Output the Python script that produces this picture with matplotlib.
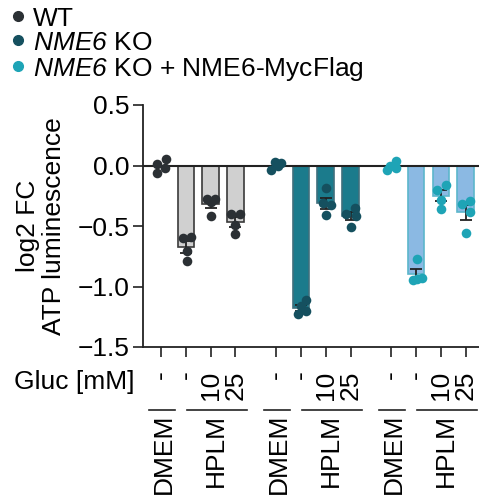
import numpy as np
import matplotlib
matplotlib.use("Agg")
import matplotlib.pyplot as plt
import matplotlib.transforms as mtransforms
from matplotlib.lines import Line2D

plt.rcParams["font.family"] = ["Liberation Sans", "DejaVu Sans"]
plt.rcParams["mathtext.fontset"] = "custom"
plt.rcParams["mathtext.it"] = "Liberation Sans:italic"
plt.rcParams["mathtext.rm"] = "Liberation Sans:italic"

# data (log2 FC ATP luminescence), 4 replicates per condition
genotypes = ["WT", r"$NME6$ KO", r"$NME6$ KO + NME6-MycFlag"]
gluc_labels = ["-", "-", "10", "25"]
media = ["DMEM", "HPLM"]

wt_vals = [[0.05, 0.01, -0.02, -0.06],
           [-0.59, -0.60, -0.71, -0.79],
           [-0.28, -0.28, -0.30, -0.42],
           [-0.40, -0.40, -0.49, -0.57]]
ko_vals = [[0.03, 0.02, 0.00, -0.04],
           [-1.11, -1.16, -1.20, -1.23],
           [-0.19, -0.31, -0.33, -0.41],
           [-0.35, -0.40, -0.42, -0.51]]
resc_vals = [[0.04, 0.00, -0.02, -0.04],
             [-0.77, -0.93, -0.94, -0.95],
             [-0.16, -0.20, -0.285, -0.36],
             [-0.29, -0.32, -0.385, -0.555]]

# horizontal scatter of replicate dots
wt_offs = [[0.19, -0.17, 0.16, -0.17], [0.2, -0.13, 0.04, 0.04],
           [-0.16, 0.17, 0.0, 0.0], [-0.2, 0.17, 0.0, 0.0]]
ko_offs = [[-0.04, 0.19, 0.08, -0.2], [0.2, 0.0, 0.2, -0.13],
           [0.0, -0.13, 0.2, 0.0], [0.16, -0.17, 0.2, 0.0]]
resc_offs = [[0.19, -0.04, 0.19, -0.17], [0.04, 0.23, 0.04, -0.13],
             [0.2, -0.16, 0.0, 0.0], [0.16, -0.16, 0.16, 0.0]]

all_vals = [wt_vals, ko_vals, resc_vals]
all_offs = [wt_offs, ko_offs, resc_offs]
bar_colors = ["#d0d0d0", "#1b7b8c", "#8bb9e3"]
edge_colors = ["#3a3a3a", "#3f6f7d", "#5cb6cb"]
dot_colors = ["#2b3034", "#15505f", "#1ea4b6"]

FS = 19

fig = plt.figure(figsize=(4.79, 5.0), dpi=100)
ax = fig.add_axes([143 / 479, 1 - 347 / 500, 1 - 143 / 479, (347 - 105) / 500])

group_gap = 4.64
width = 0.67
tick_pos = []
for g in range(3):
    for i in range(4):
        x = g * group_gap + i
        tick_pos.append(x)
        vals = np.array(all_vals[g][i])
        m = vals.mean()
        sem = vals.std(ddof=1) / np.sqrt(len(vals))
        if i > 0:
            ax.bar(x, m, width=width, color=bar_colors[g], edgecolor=edge_colors[g],
                   linewidth=1.2, zorder=2)
            ax.errorbar(x, m, yerr=sem, fmt="none", ecolor="#222222", elinewidth=1.3,
                        capsize=4, capthick=1.3, zorder=3)
        ax.scatter(x + np.array(all_offs[g][i]), vals, s=48, color=dot_colors[g],
                   linewidths=0, zorder=4)

ax.axhline(0, color="#222222", lw=1.5, zorder=3)
ax.set_ylim(-1.5, 0.5)
ax.set_xlim(-0.73, 12.82)
ax.set_yticks([0.5, 0.0, -0.5, -1.0, -1.5])
ax.set_yticklabels(["0.5", "0.0", "\u22120.5", "\u22121.0", "\u22121.5"])
ax.set_xticks(tick_pos)
ax.set_xticklabels(gluc_labels * 3, rotation=90, va="top", ha="center")
ax.tick_params(axis="both", labelsize=FS, length=7, width=1.2, color="#222222")
ax.tick_params(axis="x", pad=10)
ax.tick_params(axis="y", pad=3)
for s in ["top", "right"]:
    ax.spines[s].set_visible(False)
for s in ["left", "bottom"]:
    ax.spines[s].set_linewidth(1.3)
    ax.spines[s].set_color("#222222")
ax.set_ylabel("log2 FC\nATP luminescence", fontsize=FS, labelpad=8, linespacing=1.1)

fig.text(135 / 479, 1 - 382 / 500, "Gluc [mM]", fontsize=FS, ha="right", va="center")

# medium brackets and labels under the axis
trans = mtransforms.blended_transform_factory(ax.transData, fig.transFigure)
y_br = 1 - 410 / 500
for g in range(3):
    base = g * group_gap
    ax.plot([base - 0.5, base + 0.55], [y_br, y_br], color="#222222", lw=1.2,
            transform=trans, clip_on=False)
    ax.plot([base + 1.05, base + 3.45], [y_br, y_br], color="#222222", lw=1.2,
            transform=trans, clip_on=False)
    ax.text(base + 0.12, 1 - 414 / 500, media[0], rotation=90, ha="center", va="top",
            fontsize=FS, transform=trans)
    ax.text(base + 2.2, 1 - 414 / 500, media[1], rotation=90, ha="center", va="top",
            fontsize=FS, transform=trans)

handles = [Line2D([], [], marker="o", ls="none", markersize=7, color=c) for c in dot_colors]
fig.legend(handles, genotypes, loc="upper left", bbox_to_anchor=(0.0, 1.008),
           frameon=False, fontsize=FS, handletextpad=0.25, labelspacing=0.0,
           handlelength=0.6, borderaxespad=0.0)

fig.savefig("out.png", dpi=100)
